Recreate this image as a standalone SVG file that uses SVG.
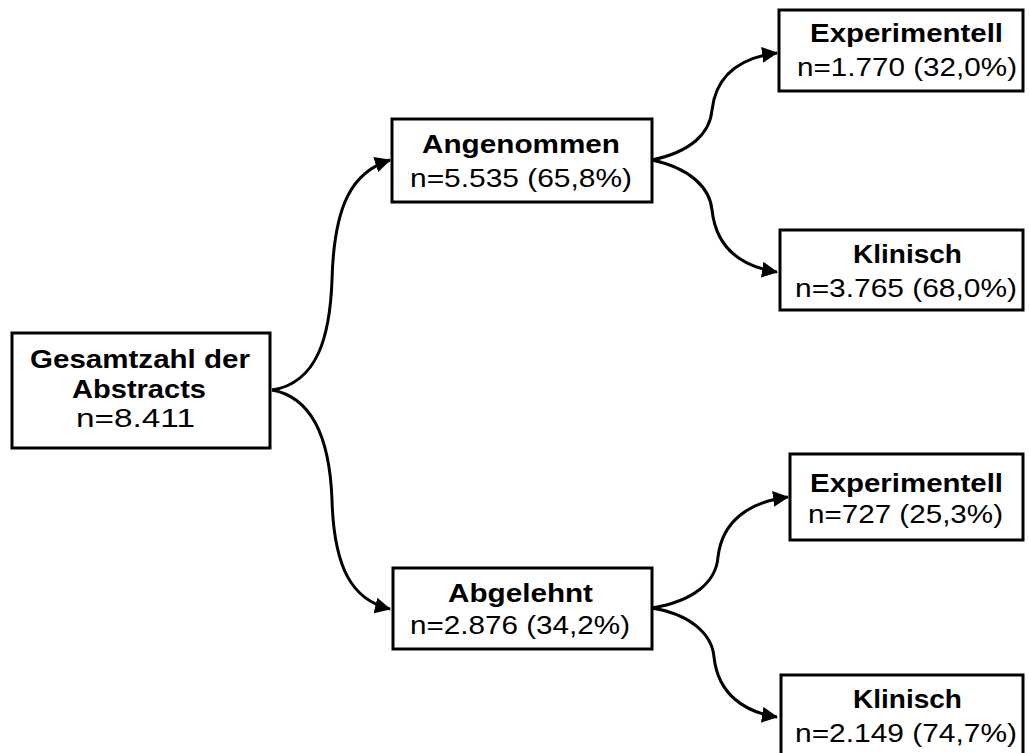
<svg xmlns="http://www.w3.org/2000/svg" width="1029" height="753" viewBox="0 0 1029 753">
<style>
.box{fill:#fff;stroke:#000;stroke-width:3}
.t{font-family:"Liberation Sans",Arial,sans-serif;font-size:25px;fill:#000}
.b{font-weight:bold}
.c{fill:none;stroke:#000;stroke-width:3}
</style>
<defs>
<marker id="ah" markerUnits="userSpaceOnUse" markerWidth="18" markerHeight="16" refX="15" refY="8" orient="auto">
<path d="M0,0 L16,8 L0,16 Z" fill="#000"/>
</marker>
</defs>
<g id="connectors">
<path class="c" marker-end="url(#ah)" d="M272,390 C318,383 330,335 332,280 C334,205 352,172 390,160"/>
<path class="c" marker-end="url(#ah)" d="M272,390 C316,398 330,445 332,500 C334,568 352,600 390,609"/>
<path class="c" marker-end="url(#ah)" d="M652,160 C690,152 710,134 712,110 C716,76 738,58 777,53"/>
<path class="c" marker-end="url(#ah)" d="M652,160 C690,168 710,188 712,210 C716,246 738,266 777,272"/>
<path class="c" marker-end="url(#ah)" d="M652,608 C694,601 716,582 718,557 C722,522 748,502 788,497"/>
<path class="c" marker-end="url(#ah)" d="M652,608 C690,614 712,634 714,657 C718,694 744,712 777,717"/>
</g>
<g id="root">
<rect class="box" x="12" y="333" width="258" height="115"/>
<text class="t b" x="30" y="368" textLength="220" lengthAdjust="spacingAndGlyphs">Gesamtzahl der</text>
<text class="t b" x="72" y="398" textLength="134" lengthAdjust="spacingAndGlyphs">Abstracts</text>
<text class="t" x="76" y="427" textLength="119" lengthAdjust="spacingAndGlyphs">n=8.411</text>
</g>
<g id="angenommen">
<rect class="box" x="392" y="119" width="260" height="83"/>
<text class="t b" x="422" y="153" textLength="198" lengthAdjust="spacingAndGlyphs">Angenommen</text>
<text class="t" x="410" y="187" textLength="222" lengthAdjust="spacingAndGlyphs">n=5.535 (65,8%)</text>
</g>
<g id="abgelehnt">
<rect class="box" x="393" y="568" width="259" height="81"/>
<text class="t b" x="448" y="602" textLength="145" lengthAdjust="spacingAndGlyphs">Abgelehnt</text>
<text class="t" x="410" y="634" textLength="220" lengthAdjust="spacingAndGlyphs">n=2.876 (34,2%)</text>
</g>
<g id="exp1">
<rect class="box" x="779" y="10" width="244" height="81"/>
<text class="t b" x="810" y="42" textLength="193" lengthAdjust="spacingAndGlyphs">Experimentell</text>
<text class="t" x="797" y="76" textLength="220" lengthAdjust="spacingAndGlyphs">n=1.770 (32,0%)</text>
</g>
<g id="klin1">
<rect class="box" x="780" y="230" width="243" height="80"/>
<text class="t b" x="853" y="263" textLength="109" lengthAdjust="spacingAndGlyphs">Klinisch</text>
<text class="t" x="795" y="297" textLength="222" lengthAdjust="spacingAndGlyphs">n=3.765 (68,0%)</text>
</g>
<g id="exp2">
<rect class="box" x="790" y="454" width="233" height="86"/>
<text class="t b" x="810" y="492" textLength="193" lengthAdjust="spacingAndGlyphs">Experimentell</text>
<text class="t" x="808" y="523" textLength="195" lengthAdjust="spacingAndGlyphs">n=727 (25,3%)</text>
</g>
<g id="klin2">
<rect class="box" x="781" y="675" width="242" height="82"/>
<text class="t b" x="853" y="708" textLength="109" lengthAdjust="spacingAndGlyphs">Klinisch</text>
<text class="t" x="795" y="742" textLength="222" lengthAdjust="spacingAndGlyphs">n=2.149 (74,7%)</text>
</g>
</svg>
